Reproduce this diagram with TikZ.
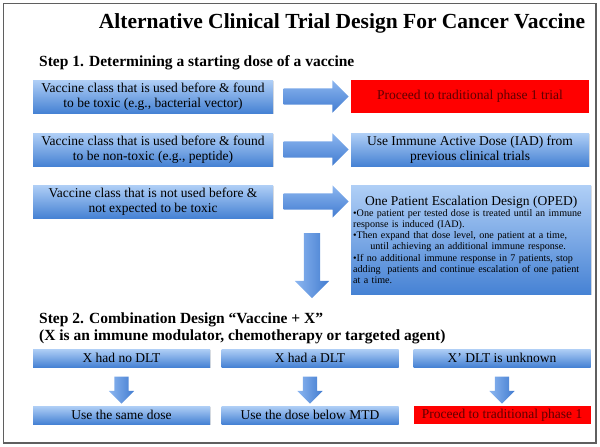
\documentclass[tikz,border=0pt]{standalone}
\usepackage{fontspec}
\setmainfont{Liberation Serif}
\usetikzlibrary{shapes.arrows,shadows,calc}

\definecolor{boxtop}{RGB}{176,207,246}
\definecolor{boxbot}{RGB}{70,130,212}
\definecolor{arrtop}{RGB}{140,182,240}
\definecolor{arrbot}{RGB}{66,124,208}
\definecolor{redtext}{RGB}{95,0,0}
\definecolor{framegray}{RGB}{95,95,95}

\begin{document}
\begin{tikzpicture}[x=1pt, y=-1pt, every node/.style={inner sep=0pt}]
        \tikzset{bluebox/.style={top color=boxtop, bottom color=boxbot, align=center,
            minimum width=240pt, minimum height=33pt, font=\fontsize{13.5}{15}\selectfont,
            drop shadow={opacity=0.25, shadow xshift=0.8pt, shadow yshift=-1.2pt}}}
        \tikzset{redbox/.style={fill=red, text=redtext, minimum width=238pt, minimum height=33pt,
            font=\fontsize{13.5}{15}\selectfont}}
        \tikzset{smallbox/.style={bluebox, minimum width=177pt, minimum height=18pt,
            font=\fontsize{13.5}{15}\selectfont}}
        \tikzset{fatarrow/.style={single arrow, top color=arrtop, bottom color=arrbot,
            inner sep=8pt, single arrow head extend=8pt, minimum height=65pt}}
        \tikzset{thinarrow/.style={single arrow, left color=arrtop, right color=arrbot, rotate=-90,
            inner sep=7pt, single arrow head extend=5.5pt, minimum height=27pt}}
        \tikzset{heading/.style={anchor=base west, font=\bfseries\fontsize{15.5}{18}\selectfont}}
        \useasboundingbox (0,0) rectangle (600,447);
        \draw[framegray, line width=1.5pt] (3.5,3.5) rectangle (596,443);
        \node[font=\bfseries\fontsize{21.5}{26}\selectfont] (title) at (342,23) {Alternative Clinical Trial Design For Cancer Vaccine};
        % step 1
        \node[heading] (step1) at (39,66) {Step 1. Determining a starting dose of a vaccine};
        \node[bluebox] (v1) at (153,96.5) {Vaccine class that is used before \& found\\to be toxic (e.g., bacterial vector)};
        \node[bluebox] (v2) at (153,149.5) {Vaccine class that is used before \& found\\to be non-toxic (e.g., peptide)};
        \node[bluebox] (v3) at (153,201.5) {Vaccine class that is not used before \&\\not expected to be toxic};
        \node[redbox] (r1) at (470,96.5) {Proceed to traditional phase 1 trial};
        \node[bluebox, minimum width=238pt] (r2) at (470,149.5) {Use Immune Active Dose (IAD) from\\previous clinical trials};
        \node[bluebox, anchor=north west, align=left, text width=236pt, inner xsep=1.5pt,
            minimum height=109pt, font=\fontsize{10.1}{11.2}\selectfont] (r3) at (351,185)
            {\centering{\fontsize{13.5}{15}\selectfont One Patient Escalation Design (OPED)}\par
            \raggedright
            \mbox{•One patient per tested dose is treated until an immune}\\
            response is induced (IAD).\\
            \mbox{•Then expand that dose level, one patient at a time,}\\
            \hspace*{1.7em}until achieving an additional immune response.\\
            \mbox{•If no additional immune response in 7 patients, stop}\\
            \mbox{adding\ \ patients and continue escalation of one patient}\\
            at a time.};
        \node[fatarrow] (a1) at ($(v1.east)!0.5!(r1.west)$) {};
        \node[fatarrow] (a2) at ($(v2.east)!0.5!(r2.west)$) {};
        \node[fatarrow] (a3) at ($(v3.east)!0.5!(r3.west |- v3.east)$) {};
        \node[fatarrow, rotate=-90, left color=arrtop, right color=arrbot, single arrow head extend=9pt] (down) at (312,261.5) {};
        % step 2
        \node[heading] (step2) at (39,323) {Step 2. Combination Design “Vaccine + X”};
        \node[heading] (step2b) at (39,340) {(X is an immune modulator, chemotherapy or targeted agent)};
        \node[smallbox] (x1) at (121.5,358) {X had no DLT};
        \node[smallbox] (x2) at (310,358) {X had a DLT};
        \node[smallbox] (x3) at (502,358) {X’ DLT is unknown};
        \node[smallbox] (d1) at (121.5,415) {Use the same dose};
        \node[smallbox] (d2) at (310,415) {Use the dose below MTD};
        \node[redbox, minimum width=177pt, minimum height=18pt] (d3) at (502,415) {Proceed to traditional phase 1};
        \foreach \i in {1,2,3}
            \node[thinarrow] (b\i) at ($(x\i.south)!0.5!(d\i.north)$) {};
\end{tikzpicture}
\end{document}
